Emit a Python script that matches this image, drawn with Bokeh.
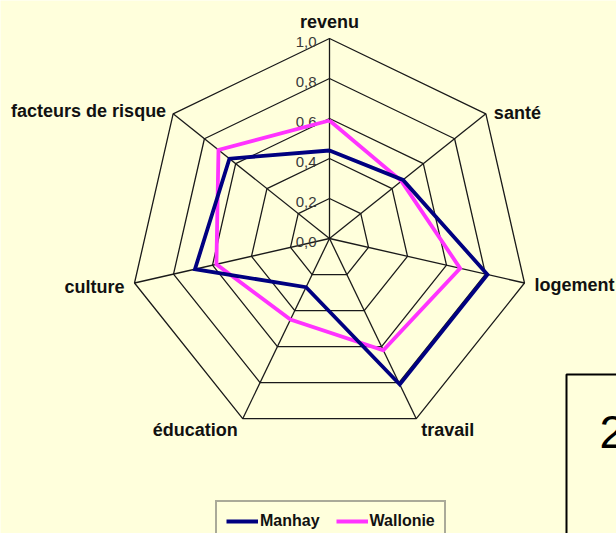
import math
from bokeh.plotting import figure
from bokeh.models import Range1d, Legend, LegendItem, ColumnDataSource
from bokeh.core.properties import value
from bokeh.embed import file_html
from bokeh.resources import INLINE

# ---- data ----
axes_labels = ["revenu", "santé", "logement", "travail", "éducation", "culture", "facteurs de risque"]
manhay = [0.44, 0.47, 0.81, 0.81, 0.27, 0.69, 0.64]
wallonie = [0.59, 0.46, 0.67, 0.62, 0.45, 0.58, 0.71]
levels = [0.2, 0.4, 0.6, 0.8, 1.0]
tick_values = [0.0, 0.2, 0.4, 0.6, 0.8, 1.0]
tick_labels = ["0,0", "0,2", "0,4", "0,6", "0,8", "1,0"]
series_names = ["Manhay", "Wallonie"]
box_text = "2"

BG = "#FFFFDC"
FONT = "Liberation Sans"
n = len(axes_labels)
angles = [2 * math.pi * i / n for i in range(n)]


def polar(r, th):
    return r * math.sin(th), r * math.cos(th)


p = figure(width=616, height=533, output_backend="svg", toolbar_location=None,
           x_range=Range1d(-1.645, 1.435), y_range=Range1d(-1.475, 1.19),
           x_axis_type=None, y_axis_type=None, min_border=0,
           background_fill_color=BG, border_fill_color=BG, outline_line_color=None)
p.grid.visible = False

# grid heptagons
for lv in levels:
    xs = [polar(lv, a)[0] for a in angles] + [polar(lv, angles[0])[0]]
    ys = [polar(lv, a)[1] for a in angles] + [polar(lv, angles[0])[1]]
    p.line(xs, ys, line_color="#1a1a1a", line_width=1.3)

# spokes
sx0, sy0, sx1, sy1 = [], [], [], []
for a in angles:
    x1, y1 = polar(1.0, a)
    sx0.append(0); sy0.append(0); sx1.append(x1); sy1.append(y1)
p.segment(sx0, sy0, sx1, sy1, line_color="#1a1a1a", line_width=1.3)

# tick labels along the top axis
p.text(x=[0] * len(tick_values), y=tick_values, text=tick_labels,
       text_font=value(FONT), text_font_size="15px", text_color="#3a3a3a",
       text_align="right", text_baseline="middle", x_offset=-13, y_offset=3)

# series
def closed(vals):
    pts = [polar(v, a) for v, a in zip(vals, angles)]
    pts.append(pts[0])
    return [q[0] for q in pts], [q[1] for q in pts]

wx, wy = closed(wallonie)
mx, my = closed(manhay)
rw = p.line(wx, wy, line_color="#FF33FF", line_width=3.8, line_join="miter")
rm = p.line(mx, my, line_color="#000080", line_width=3.8, line_join="miter")

# axis labels
lab_x, lab_y = [], []
for a in angles:
    x, y = polar(1.0, a)
    lab_x.append(x); lab_y.append(y)
aligns = ["center", "left", "left", "left", "right", "right", "right"]
xoffs = [0, 8, 10, 5, -5, -10, -7]
yoffs = [-17, -1, 2, 11, 11, 4, -3]
src = ColumnDataSource(dict(x=lab_x, y=lab_y, t=axes_labels, al=aligns, xo=xoffs, yo=yoffs))
p.text(x="x", y="y", text="t", source=src, text_align="al", x_offset="xo", y_offset="yo",
       text_baseline="middle", text_font=value(FONT), text_font_size="18px",
       text_font_style="bold", text_color="#111111")

# bottom-right text box (partially visible)
p.quad(left=[1.185], right=[1.7], top=[-0.68], bottom=[-1.7],
       fill_color=BG, line_color="black", line_width=2)
p.text(x=[1.35], y=[-0.965], text=[box_text], text_font=value(FONT),
       text_font_size="46px", text_color="black", text_baseline="alphabetic")

legend = Legend(items=[LegendItem(label=series_names[0], renderers=[rm]),
                       LegendItem(label=series_names[1], renderers=[rw])],
                location=(215, -9), orientation="horizontal",
                glyph_width=32, glyph_height=20, label_standoff=2, spacing=16,
                padding=9, margin=0, border_line_color="#555555", border_line_width=2,
                background_fill_color=BG, background_fill_alpha=1,
                label_text_font=FONT, label_text_font_style="bold",
                label_text_font_size="16px", label_text_color="#111111")
p.add_layout(legend)

html = file_html(p, INLINE)
html = html.replace("<body>", '<body style="background-color:%s;">' % BG, 1)
open("out.html", "w").write(html)
